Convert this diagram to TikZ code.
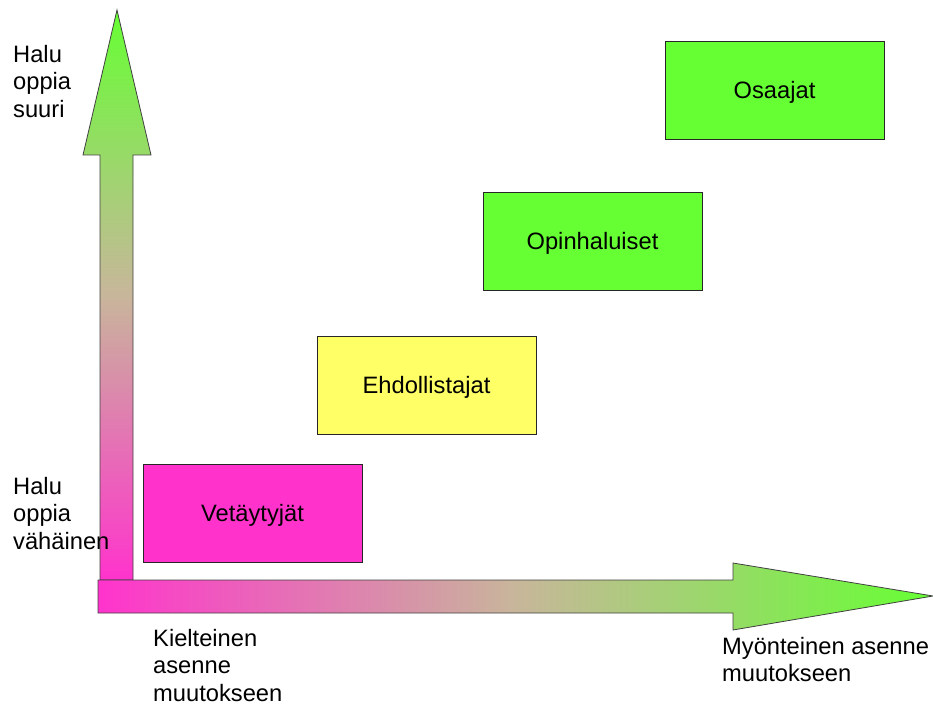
\documentclass[tikz,border=0pt]{standalone}
\usepackage{fontspec}
\setmainfont{Liberation Sans}
\usetikzlibrary{shadows}
\definecolor{pinkki}{HTML}{FF33CC}
\definecolor{keltainen}{HTML}{FFFF66}
\definecolor{vihrea}{HTML}{66FF33}
\definecolor{ruskea}{RGB}{200,182,155}
\tikzset{
  ryhma/.style={shape=rectangle,draw=black!85,line width=0.8pt,minimum width=219pt,minimum height=98pt,inner sep=0pt,
    text height=17pt,text depth=0pt,
    drop shadow={shadow xshift=1.2pt,shadow yshift=-1.2pt,fill=black!35,opacity=0.6}},
  akseli/.style={draw=black!75,line width=0.8pt},
  selite/.style={anchor=north west,inner sep=0pt,align=left}
}

\begin{document}
\begin{tikzpicture}[x=1pt,y=1pt,font=\fontsize{23.7}{27.5}\selectfont]
\useasboundingbox (0,0) rectangle (933,705);
% pystyakseli: halu oppia
\draw[akseli,top color=vihrea,bottom color=pinkki,middle color=ruskea]
  (100,125) -- (100,550) -- (83,550) -- (117,695) -- (151,550) -- (133,550) -- (133,125) -- cycle;
% vaaka-akseli: asenne muutokseen
\draw[akseli,left color=pinkki,right color=vihrea,middle color=ruskea]
  (98,92) -- (98,125) -- (733,125) -- (733,142) -- (933,109) -- (733,75) -- (733,92) -- cycle;
\node(vet)[ryhma,fill=pinkki] at (252.5,192){Vetäytyjät};
\node(ehd)[ryhma,fill=keltainen] at (426.5,320){Ehdollistajat};
\node(opi)[ryhma,fill=vihrea] at (592.5,464){Opinhaluiset};
\node(osa)[ryhma,fill=vihrea] at (774.5,615){Osaajat};
\node(suuri)[selite] at (13,660){Halu\\oppia\\suuri};
\node(vahainen)[selite] at (13,228){Halu\\oppia\\vähäinen};
\node(kielt)[selite] at (153,76){Kielteinen\\asenne\\muutokseen};
\node(myont)[selite] at (722,68){Myönteinen asenne\\muutokseen};
\end{tikzpicture}
\end{document}
